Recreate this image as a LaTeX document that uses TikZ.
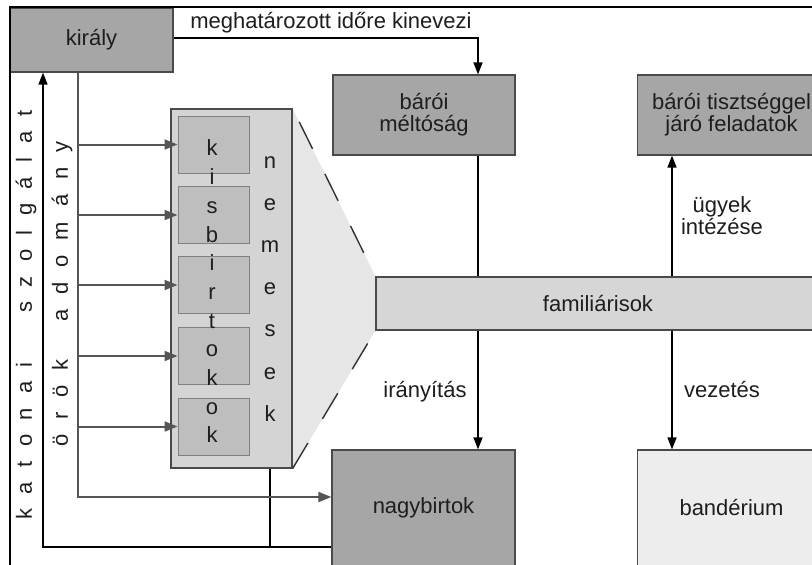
\documentclass[tikz,border=0pt]{standalone}
\usepackage{fontspec}
\setmainfont{Liberation Sans}
\newfontfamily\spacedA[LetterSpace=65.5]{Liberation Sans}
\newfontfamily\spacedB[LetterSpace=68]{Liberation Sans}
\usetikzlibrary{arrows.meta,backgrounds}
\definecolor{dkfill}{HTML}{A6A6A6}
\definecolor{kisfill}{HTML}{BEBEBE}
\definecolor{nemfill}{HTML}{D4D4D4}
\definecolor{famfill}{HTML}{D6D6D6}
\definecolor{trapfill}{HTML}{E6E6E6}
\definecolor{bandfill}{HTML}{EDEDED}
\definecolor{bordc}{HTML}{4A4A4A}
\definecolor{gryline}{HTML}{555555}
\definecolor{kisbord}{HTML}{808080}
\definecolor{txtc}{HTML}{1E1E1E}
\begin{document}
\begin{tikzpicture}[x=1pt,y=-1pt,
  every node/.style={font=\fontsize{22}{22}\selectfont, inner sep=0pt, text=txtc},
  boxn/.style={draw=bordc, line width=1.2pt, align=center},
  darkbox/.style={boxn, fill=dkfill},
  kisbox/.style={draw=kisbord, line width=1pt, fill=kisfill, minimum width=71, minimum height=57},
  blk/.style={line width=1.6pt, draw=black},
  blkarr/.style={blk, -{Triangle[length=12pt,width=9pt]}},
  gry/.style={line width=2pt, draw=gryline},
  gryarr/.style={gry, -{Triangle[length=13pt,width=10pt]}},
  dashln/.style={draw=black!80, line width=1.4pt, dash pattern=on 30pt off 28pt, dash phase=43pt},
]
\useasboundingbox (0,0) rectangle (812,565);
\clip (0,0) rectangle (812,565);

% boxes
\node[darkbox, minimum width=163, minimum height=64] (kiraly) at (91.5,40) {király};
\node[darkbox, minimum width=182, minimum height=80] (bmelt) at (424,115) {bárói\\méltóság};
\node[darkbox, minimum width=188, minimum height=80] (bfel) at (731.5,115) {bárói tisztséggel\\járó feladatok};
\node[boxn, fill=famfill, minimum width=444, minimum height=53] (fam) at (598,303.5) {familiárisok};
\node[darkbox, minimum width=183, minimum height=116] (nagy) at (423.5,508) {nagybirtok};
\node[boxn, fill=bandfill, minimum width=188, minimum height=116] (band) at (731.5,508) {bandérium};

\node[boxn, fill=nemfill, minimum width=121, minimum height=359] (nem) at (231.5,288.5) {};
\foreach \i/\y in {1/144.5,2/215,3/285,4/356,5/426.5}
  \node[kisbox] (kis\i) at (213.5,\y) {};
\node[align=center, font=\fontsize{22}{28.7}\selectfont] (kistxt) at (212,291.5) {k\\i\\s\\b\\i\\r\\t\\o\\k\\o\\k};
\node[align=center, font=\fontsize{22}{42.2}\selectfont] (nemtxt) at (270,288.8) {n\\e\\m\\e\\s\\e\\k};

% zoom wedge
\begin{scope}[on background layer]
  \fill[white] (0,0) rectangle (812,565);
  \fill[trapfill] (nem.north east) -- (fam.north west) -- (fam.south west) -- (nem.south east) -- cycle;
\end{scope}
\draw[dashln] (nem.north east) -- (fam.north west);
\draw[dashln] (fam.south west) -- (nem.south east);

% vertical labels
\node[rotate=90, font=\fontsize{22}{22}\spacedA] (katsz) at (26,315) {katonai\hspace{1.32em} szolgálat};
\node[rotate=90, font=\fontsize{22}{22}\spacedB] (orok) at (62,294) {örök\hspace{0.74em} adomány};

% connectors
\coordinate (a1) at (478,38);
\coordinate (a2) at (672,0);
\draw[blkarr] (kiraly.east |- a1) -- (a1) -- (a1 |- bmelt.north);
\draw[blk] (a1 |- bmelt.south) -- (a1 |- fam.north);
\draw[blkarr] (a1 |- fam.south) -- (a1 |- nagy.north);
\draw[blkarr] (a2 |- fam.north) -- (a2 |- bfel.south);
\draw[blkarr] (a2 |- fam.south) -- (a2 |- band.north);

\coordinate (k1) at (43,547);
\coordinate (k2) at (270,547);
\draw[blkarr] (nagy.west |- k1) -- (k1) -- (k1 |- kiraly.south);
\draw[blk] (nem.south -| k2) -- (k2);

\coordinate (g0) at (78,497);
\draw[gryarr] (g0 |- kiraly.south) -- (g0) -- (nagy.west |- g0);
\foreach \i in {1,...,5}
  \draw[gryarr] (g0 |- kis\i.west) -- (kis\i.west);

% connector labels
\node[anchor=base] (lkin) at (331,28) {meghatározott időre kinevezi};
\node[anchor=base] (liran) at (425,397) {irányítás};
\node[anchor=base] (lvez) at (722,397) {vezetés};
\node[align=center] (lugy) at (722,216) {ügyek\\intézése};

% frame
\draw[line width=2.2pt, line cap=rect] (10,566) -- (10,7) -- (813,7);
\end{tikzpicture}
\end{document}
